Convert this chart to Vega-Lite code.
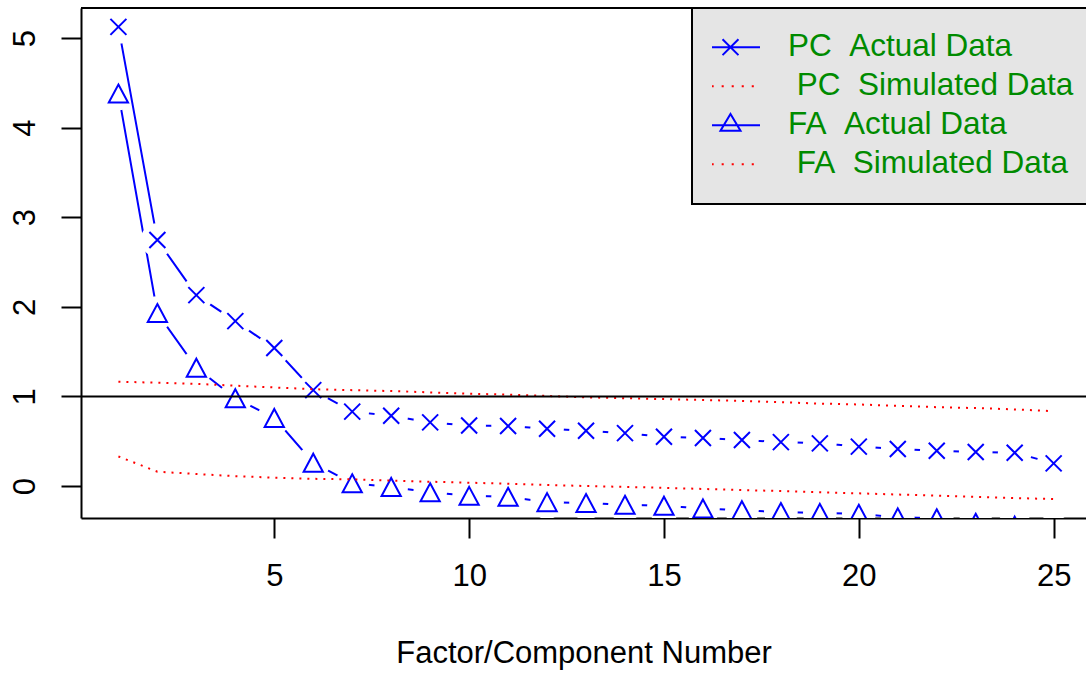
{
  "$schema": "https://vega.github.io/schema/vega-lite/v6.json",
  "autosize": {"type": "none"},
  "padding": {"left": 81, "top": 8, "right": 0, "bottom": 157},
  "width": 1005,
  "height": 510,
  "background": "white",
  "config": {
    "font": "Liberation Sans",
    "view": {"stroke": null},
    "legend": {"strokeWidth": 2},
    "axisX": {"grid": false, "domainColor": "black", "domainWidth": 2, "tickColor": "black", "tickWidth": 2, "tickSize": 20,
              "labelFontSize": 31, "labelColor": "black", "labelPadding": 47, "labelBaseline": "alphabetic",
              "labelFlush": false, "labelOverlap": false,
              "titleFontSize": 31, "titleFontWeight": "normal", "titleColor": "black",
              "titleBaseline": "alphabetic", "titlePadding": 71, "zindex": 1},
    "axisY": {"grid": false, "domainColor": "black", "domainWidth": 2, "tickColor": "black", "tickWidth": 2, "tickSize": 20,
              "labelFontSize": 31, "labelColor": "black", "labelPadding": 27, "labelAngle": 270,
              "labelAlign": "center", "labelBaseline": "alphabetic", "labelFlush": false, "labelOverlap": false,
              "zindex": 1}
  },
  "datasets": {
    "pc": [
      {"n": 1, "value": 5.124}, {"n": 2, "value": 2.745}, {"n": 3, "value": 2.13}, {"n": 4, "value": 1.84}, {"n": 5, "value": 1.54},
      {"n": 6, "value": 1.07}, {"n": 7, "value": 0.83}, {"n": 8, "value": 0.785}, {"n": 9, "value": 0.71}, {"n": 10, "value": 0.675},
      {"n": 11, "value": 0.67}, {"n": 12, "value": 0.64}, {"n": 13, "value": 0.617}, {"n": 14, "value": 0.59}, {"n": 15, "value": 0.55},
      {"n": 16, "value": 0.536}, {"n": 17, "value": 0.513}, {"n": 18, "value": 0.49}, {"n": 19, "value": 0.476}, {"n": 20, "value": 0.44},
      {"n": 21, "value": 0.413}, {"n": 22, "value": 0.394}, {"n": 23, "value": 0.38}, {"n": 24, "value": 0.372}, {"n": 25, "value": 0.253}
    ],
    "fa": [
      {"n": 1, "value": 4.38}, {"n": 2, "value": 1.93}, {"n": 3, "value": 1.32}, {"n": 4, "value": 0.98}, {"n": 5, "value": 0.76},
      {"n": 6, "value": 0.26}, {"n": 7, "value": 0.03}, {"n": 8, "value": -0.01}, {"n": 9, "value": -0.07}, {"n": 10, "value": -0.11},
      {"n": 11, "value": -0.12}, {"n": 12, "value": -0.18}, {"n": 13, "value": -0.19}, {"n": 14, "value": -0.21}, {"n": 15, "value": -0.22},
      {"n": 16, "value": -0.25}, {"n": 17, "value": -0.27}, {"n": 18, "value": -0.29}, {"n": 19, "value": -0.3}, {"n": 20, "value": -0.31},
      {"n": 21, "value": -0.35}, {"n": 22, "value": -0.36}, {"n": 23, "value": -0.41}, {"n": 24, "value": -0.443}, {"n": 25, "value": -0.5}
    ],
    "pcs": [
      {"n": 1, "value": 1.164}, {"n": 2, "value": 1.153}, {"n": 3, "value": 1.14}, {"n": 4, "value": 1.12}, {"n": 5, "value": 1.1},
      {"n": 6, "value": 1.08}, {"n": 7, "value": 1.07}, {"n": 8, "value": 1.06}, {"n": 9, "value": 1.045}, {"n": 10, "value": 1.03},
      {"n": 11, "value": 1.02}, {"n": 12, "value": 1.005}, {"n": 13, "value": 0.99}, {"n": 14, "value": 0.98}, {"n": 15, "value": 0.97},
      {"n": 16, "value": 0.96}, {"n": 17, "value": 0.95}, {"n": 18, "value": 0.935}, {"n": 19, "value": 0.92}, {"n": 20, "value": 0.91},
      {"n": 21, "value": 0.895}, {"n": 22, "value": 0.88}, {"n": 23, "value": 0.87}, {"n": 24, "value": 0.855}, {"n": 25, "value": 0.835}
    ],
    "fas": [
      {"n": 1, "value": 0.33}, {"n": 2, "value": 0.16}, {"n": 3, "value": 0.134}, {"n": 4, "value": 0.11}, {"n": 5, "value": 0.093},
      {"n": 6, "value": 0.08}, {"n": 7, "value": 0.074}, {"n": 8, "value": 0.06}, {"n": 9, "value": 0.048}, {"n": 10, "value": 0.037},
      {"n": 11, "value": 0.025}, {"n": 12, "value": 0.012}, {"n": 13, "value": 0.0}, {"n": 14, "value": -0.01}, {"n": 15, "value": -0.02},
      {"n": 16, "value": -0.033}, {"n": 17, "value": -0.045}, {"n": 18, "value": -0.056}, {"n": 19, "value": -0.069}, {"n": 20, "value": -0.082},
      {"n": 21, "value": -0.095}, {"n": 22, "value": -0.108}, {"n": 23, "value": -0.122}, {"n": 24, "value": -0.134}, {"n": 25, "value": -0.146}
    ],
    "leg": [
      {"series": "PC\u00a0\u00a0Actual Data"},
      {"series": "\u200b\u00a0PC\u00a0\u00a0Simulated Data"},
      {"series": "FA\u00a0\u00a0Actual Data"},
      {"series": "\u200b\u00a0FA\u00a0\u00a0Simulated Data"}
    ]
  },
  "layer": [
    {
      "data": {"name": "fa"},
      "mark": {"type": "line", "color": "#0000FF", "strokeWidth": 2, "clip": true},
      "encoding": {
        "x": {"field": "n", "type": "quantitative", "title": "Factor/Component Number",
              "scale": {"domain": [0.04, 25.83], "nice": false, "zero": false},
              "axis": {"values": [5, 10, 15, 20, 25], "title": "Factor/Component Number", "format": "d"}},
        "y": {"field": "value", "type": "quantitative", "title": null,
              "scale": {"domain": [-0.357, 5.335], "nice": false, "zero": false},
              "axis": {"values": [0, 1, 2, 3, 4, 5], "title": null, "format": "d"}}
      }
    },
    {
      "data": {"name": "fa"},
      "mark": {"type": "point", "shape": "circle", "filled": true, "fill": "white", "opacity": 1, "strokeWidth": 0, "size": 1134, "clip": true},
      "encoding": {
        "x": {"field": "n", "type": "quantitative", "title": "Factor/Component Number"},
        "y": {"field": "value", "type": "quantitative", "title": null}
      }
    },
    {
      "data": {"name": "pc"},
      "mark": {"type": "line", "color": "#0000FF", "strokeWidth": 2, "clip": true},
      "encoding": {
        "x": {"field": "n", "type": "quantitative", "title": "Factor/Component Number"},
        "y": {"field": "value", "type": "quantitative", "title": null}
      }
    },
    {
      "data": {"name": "pc"},
      "mark": {"type": "point", "shape": "circle", "filled": true, "fill": "white", "opacity": 1, "strokeWidth": 0, "size": 1134, "clip": true},
      "encoding": {
        "x": {"field": "n", "type": "quantitative", "title": "Factor/Component Number"},
        "y": {"field": "value", "type": "quantitative", "title": null}
      }
    },
    {
      "data": {"name": "pc"},
      "mark": {"type": "point", "shape": "M-1,-1L1,1M-1,1L1,-1", "filled": false, "stroke": "#0000FF", "strokeWidth": 2, "opacity": 1, "size": 256, "clip": true},
      "encoding": {
        "x": {"field": "n", "type": "quantitative", "title": "Factor/Component Number"},
        "y": {"field": "value", "type": "quantitative", "title": null}
      }
    },
    {
      "data": {"name": "fa"},
      "mark": {"type": "point", "shape": "M0,-1L1.07,1L-1.07,1Z", "filled": false, "stroke": "#0000FF", "strokeWidth": 2, "opacity": 1, "size": 324, "clip": true},
      "encoding": {
        "x": {"field": "n", "type": "quantitative", "title": "Factor/Component Number"},
        "y": {"field": "value", "type": "quantitative", "title": null}
      }
    },
    {
      "data": {"name": "pcs"},
      "mark": {"type": "line", "color": "#FF0000", "strokeWidth": 2, "strokeDash": [2, 6], "clip": true},
      "encoding": {
        "x": {"field": "n", "type": "quantitative", "title": "Factor/Component Number"},
        "y": {"field": "value", "type": "quantitative", "title": null}
      }
    },
    {
      "data": {"name": "fas"},
      "mark": {"type": "line", "color": "#FF0000", "strokeWidth": 2, "strokeDash": [2, 6], "clip": true},
      "encoding": {
        "x": {"field": "n", "type": "quantitative", "title": "Factor/Component Number"},
        "y": {"field": "value", "type": "quantitative", "title": null}
      }
    },
    {
      "data": {"values": [{}]},
      "mark": {"type": "rule", "color": "black", "strokeWidth": 2},
      "encoding": {"y": {"datum": 1, "type": "quantitative", "title": null}}
    },
    {
      "data": {"values": [{}]},
      "mark": {"type": "rule", "color": "black", "strokeWidth": 2},
      "encoding": {"y": {"datum": 5.335, "type": "quantitative", "title": null}}
    },
    {
      "data": {"name": "leg"},
      "mark": {"type": "point", "filled": false, "opacity": 0, "strokeWidth": 2, "size": 3481},
      "encoding": {
        "shape": {"field": "series", "type": "nominal",
                  "scale": {"domain": ["PC\u00a0\u00a0Actual Data", "\u200b\u00a0PC\u00a0\u00a0Simulated Data", "FA\u00a0\u00a0Actual Data", "\u200b\u00a0FA\u00a0\u00a0Simulated Data"],
                            "range": ["M-1,0L1,0M-0.27,-0.27L0.27,0.27M-0.27,0.27L0.27,-0.27",
                                      "M-0.98,0L-0.91,0M-0.64,0L-0.57,0M-0.3,0L-0.23,0M0.04,0L0.11,0M0.38,0L0.45,0M0.72,0L0.79,0",
                                      "M-1,0L1,0M0,-0.38L0.34,0.19L-0.34,0.19Z",
                                      "M-0.98,0L-0.91,0M-0.64,0L-0.57,0M-0.3,0L-0.23,0M0.04,0L0.11,0M0.38,0L0.45,0M0.72,0L0.79,0"]},
                  "legend": {"title": null,
                             "orient": "none", "legendX": 611, "legendY": 0,
                             "fillColor": "#E5E5E5", "strokeColor": "black", "padding": 20, "cornerRadius": 0,
                             "symbolSize": 3481, "symbolStrokeWidth": 2, "symbolOpacity": 1, "symbolFillColor": "transparent",
                             "symbolOffset": -12,
                             "labelFontSize": 31.5, "labelColor": "#008B00", "labelFont": "Liberation Sans", "labelOffset": 27,
                             "labelLimit": 2000, "rowPadding": 0, "clipHeight": 38.4}},
        "color": {"field": "series", "type": "nominal",
                  "scale": {"domain": ["PC\u00a0\u00a0Actual Data", "\u200b\u00a0PC\u00a0\u00a0Simulated Data", "FA\u00a0\u00a0Actual Data", "\u200b\u00a0FA\u00a0\u00a0Simulated Data"],
                            "range": ["#0000FF", "#FF0000", "#0000FF", "#FF0000"]}}
      }
    }
  ]
}
